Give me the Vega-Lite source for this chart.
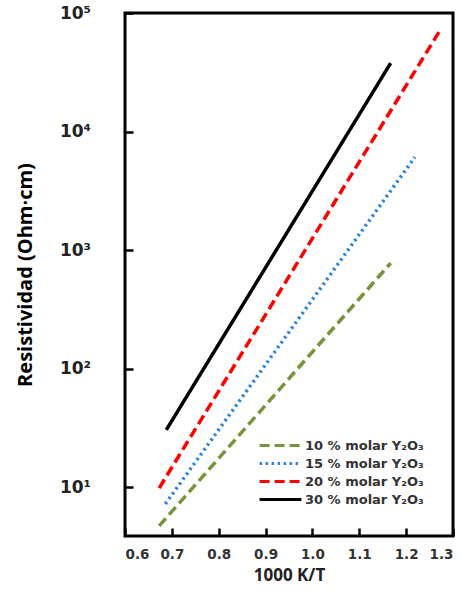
{
  "$schema": "https://vega.github.io/schema/vega-lite/v6.json",
  "width": 328,
  "height": 523,
  "autosize": {"type": "none"},
  "padding": {"left": 125, "top": 13, "right": 9, "bottom": 57},
  "background": "white",
  "config": {
    "view": {"stroke": "black", "strokeWidth": 3},
    "axis": {"domain": false, "grid": false, "tickColor": "black", "tickWidth": 2.5, "tickSize": -8}
  },
  "data": {
    "values": [
      {"serie": "10 % molar Y₂O₃", "x": 0.673, "y": 4.7},
      {"serie": "10 % molar Y₂O₃", "x": 1.167, "y": 776},
      {"serie": "15 % molar Y₂O₃", "x": 0.686, "y": 7.2},
      {"serie": "15 % molar Y₂O₃", "x": 1.219, "y": 6100},
      {"serie": "20 % molar Y₂O₃", "x": 0.673, "y": 9.8},
      {"serie": "20 % molar Y₂O₃", "x": 1.270, "y": 69000},
      {"serie": "30 % molar Y₂O₃", "x": 0.688, "y": 30.3},
      {"serie": "30 % molar Y₂O₃", "x": 1.167, "y": 37800}
    ]
  },
  "mark": {"type": "line", "strokeWidth": 3.5, "strokeCap": "butt"},
  "encoding": {
    "x": {
      "field": "x", "type": "quantitative",
      "scale": {"domain": [0.6, 1.3], "nice": false, "zero": false},
      "axis": {
        "values": [0.6, 0.7, 0.8, 0.9, 1.0, 1.1, 1.2, 1.3],
        "format": ".1f",
        "title": "1000 K/T",
        "labelFont": "DejaVu Sans", "labelFontWeight": "bold", "labelFontSize": 13.5, "labelColor": "#333",
        "labelPadding": 19,
        "titleFont": "Open Sans", "titleFontWeight": "bold", "titleFontSize": 17, "titleColor": "#222",
        "titlePadding": 7
      }
    },
    "y": {
      "field": "y", "type": "quantitative",
      "scale": {"type": "log", "domain": [3.86, 100000], "nice": false},
      "axis": {
        "values": [10, 100, 1000, 10000, 100000],
        "labelExpr": "'10' + ['⁰','¹','²','³','⁴','⁵'][round(log(datum.value)/LN10)]",
        "title": "Resistividad (Ohm·cm)",
        "labelFont": "DejaVu Sans", "labelFontWeight": "bold", "labelFontSize": 17, "labelColor": "#222",
        "labelPadding": 58, "labelAlign": "center",
        "titleFont": "Open Sans", "titleFontWeight": "bold", "titleFontSize": 20, "titleColor": "black",
        "titlePadding": 24
      }
    },
    "color": {
      "field": "serie", "type": "nominal",
      "scale": {"domain": ["10 % molar Y₂O₃", "15 % molar Y₂O₃", "20 % molar Y₂O₃", "30 % molar Y₂O₃"],
                "range": ["#77933C", "#2E86D9", "#FF0000", "#000000"]},
      "legend": {
        "title": null, "orient": "none", "legendX": 144.5, "legendY": 421.5,
        "symbolType": "M-2.2,0H2.2", "symbolSize": 361, "symbolStrokeWidth": 3,
        "labelFont": "DejaVu Sans", "labelFontWeight": "bold", "labelFontSize": 13, "labelColor": "#333",
        "rowPadding": 0, "labelOffset": 13.5
      }
    },
    "strokeDash": {
      "field": "serie", "type": "nominal",
      "scale": {"domain": ["10 % molar Y₂O₃", "15 % molar Y₂O₃", "20 % molar Y₂O₃", "30 % molar Y₂O₃"],
                "range": [[10, 5], [2.5, 3.5], [10, 5], [1, 0]]},
      "legend": null
    }
  }
}
